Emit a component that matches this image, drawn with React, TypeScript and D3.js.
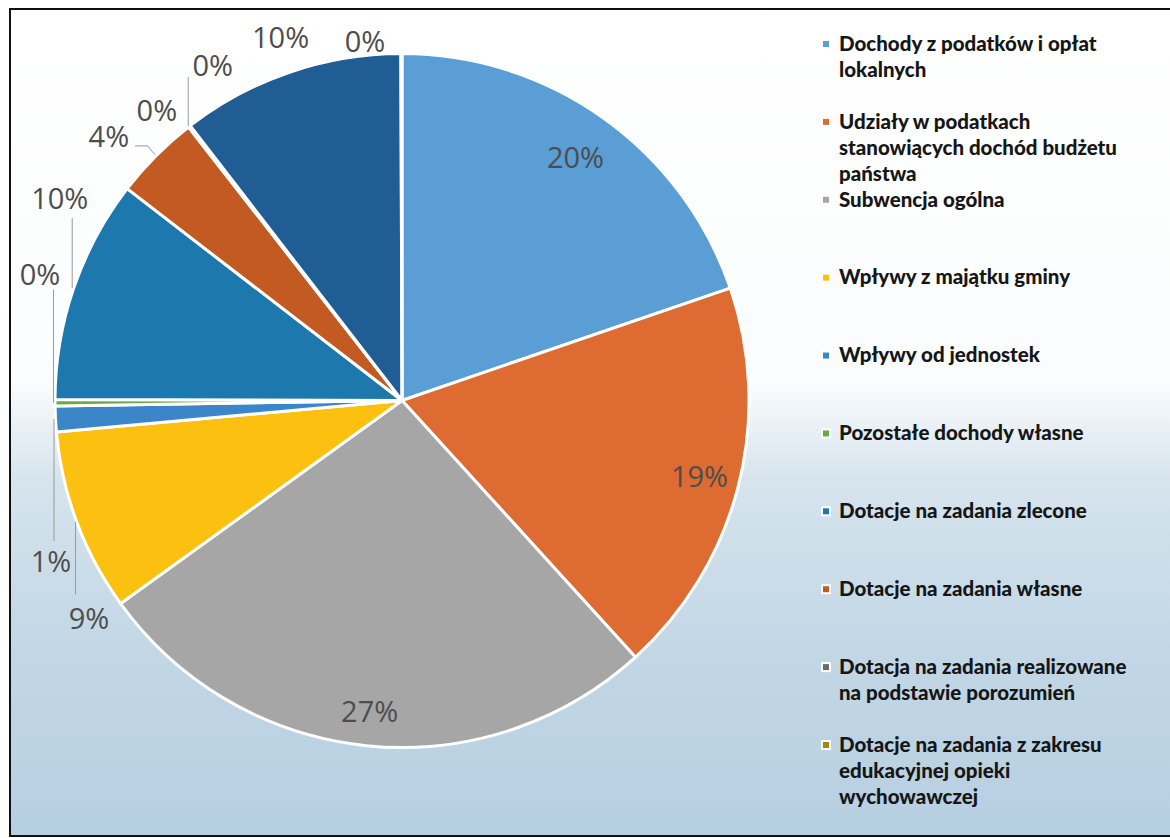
import * as d3 from "d3";

// źródła dochodów gminy (udział w %)
const categories = [
  "Dochody z podatków i opłat\nlokalnych",
  "Udziały w podatkach\nstanowiących dochód budżetu\npaństwa",
  "Subwencja ogólna",
  "Wpływy z majątku gminy",
  "Wpływy od jednostek",
  "Pozostałe dochody własne",
  "Dotacje na zadania zlecone",
  "Dotacje na zadania własne",
  "Dotacja na zadania realizowane\nna podstawie porozumień",
  "Dotacje na zadania z zakresu\nedukacyjnej opieki\nwychowawczej",
  "",
  "",
];
const shares = [19.75, 18.5, 26.8, 8.5, 1.2, 0.3, 10.4, 4.0, 0.05, 0.05, 10.4, 0.05];
const colors = [
  "#5a9ed5", "#dd6b32", "#a6a6a6", "#fcc110", "#3a86c8", "#6aa84a",
  "#1d78ad", "#c25a22", "#6b6b6b", "#a88410", "#1f5d94", "#43682b",
];
// only the first ten entries fit in the legend box
const legendCount = 10;

// label layout: inside labels sit on the centroid ring, outside ones are offset from the rim
type Placement =
  | { kind: "in"; k: number }
  | { kind: "out"; dx: number; dy: number; leader?: "v" | "elbow"; end?: number };
const placements: Placement[] = [
  { kind: "in", k: 0.86 },
  { kind: "in", k: 0.885 },
  { kind: "in", k: 0.9 },
  { kind: "out", dx: 12, dy: 96, leader: "v", end: -24 },
  { kind: "out", dx: -4.5, dy: 143, leader: "v", end: -21 },
  { kind: "out", dx: -15, dy: -128, leader: "v", end: 15 },
  { kind: "out", dx: -14, dy: -90, leader: "v", end: 20 },
  { kind: "out", dx: -47, dy: -19, leader: "elbow" },
  { kind: "out", dx: -32, dy: -16 },
  { kind: "out", dx: 23, dy: -60, leader: "v", end: 11 },
  { kind: "out", dx: -9, dy: -35 },
  { kind: "out", dx: -36.5, dy: -11.5 },
];

const W = 1170;
const H = 838;
const cx = 402;
const cy = 400.5;
const R = 347;

export default function App() {
  const total = d3.sum(shares);
  const pie = d3.pie<number>().sort(null).value((d) => d);
  const arcs = pie(shares);
  const arc = d3.arc<d3.PieArcDatum<number>>().innerRadius(0).outerRadius(R);
  const fmt = (v: number) => `${Math.round((v / total) * 100 + 1e-6)}%`;

  const legendY = d3
    .scalePoint<number>()
    .domain(d3.range(legendCount))
    .range([44, 745]);

  const labels = arcs.map((a, i) => {
    const mid = (a.startAngle + a.endAngle) / 2;
    const ex = cx + R * Math.sin(mid);
    const ey = cy - R * Math.cos(mid);
    const p = placements[i];
    if (p.kind === "in") {
      return { x: cx + p.k * R * Math.sin(mid), y: cy - p.k * R * Math.cos(mid), ex, ey, p };
    }
    return { x: ex + p.dx, y: ey + p.dy, ex, ey, p };
  });

  return (
    <svg
      width={W}
      height={H}
      style={{ position: "fixed", left: 0, top: 0, display: "block" }}
      fontFamily="Lato, 'Open Sans', sans-serif"
    >
      <defs>
        <linearGradient id="bg" x1="0" y1="0" x2="0" y2="1">
          <stop offset="0" stopColor="#ffffff" />
          <stop offset="0.45" stopColor="#fbfcfd" />
          <stop offset="0.57" stopColor="#d6e4ed" />
          <stop offset="0.75" stopColor="#c4d8e6" />
          <stop offset="1" stopColor="#b6cfe1" />
        </linearGradient>
      </defs>
      <rect x={0} y={0} width={W} height={H} fill="#ffffff" />
      <rect x={10} y={9} width={W + 20} height={827} fill="url(#bg)" stroke="#111" strokeWidth={2} />

      <g transform={`translate(${cx},${cy})`}>
        {arcs.map((a, i) => (
          <path key={i} d={arc(a) ?? ""} fill={colors[i]} stroke="#ffffff" strokeWidth={3} strokeLinejoin="round" />
        ))}
      </g>

      <g stroke="#9a9a9a" strokeWidth={1} fill="none">
        {labels.map((l, i) => {
          const p = l.p;
          if (p.kind !== "out" || !p.leader) return null;
          if (p.leader === "elbow") {
            const pts: [number, number][] = [
              [l.ex - 1, l.ey - 1],
              [l.x + 39, l.y + 9],
              [l.x + 26, l.y + 9],
            ];
            return <path key={i} d={d3.line()(pts) ?? ""} />;
          }
          const x = l.ex - 1.5;
          return <line key={i} x1={x} x2={x} y1={l.ey} y2={l.y + (p.end ?? 0)} />;
        })}
      </g>

      <g fontSize={29} fill="#4d4d4d" textAnchor="middle" fontFamily="'Open Sans', Lato, sans-serif">
        {labels.map((l, i) => (
          <text key={i} x={l.x} y={l.y} dy="0.36em">
            {fmt(shares[i])}
          </text>
        ))}
      </g>

      <g fontSize={20.5} fontWeight={900} fill="#161616">
        {categories.slice(0, legendCount).map((c, i) => {
          const y = legendY(i) ?? 0;
          return (
            <g key={i}>
              <rect x={821} y={y - 5} width={10} height={10} fill="#ffffff" />
              <rect x={823} y={y - 3} width={6} height={6} fill={colors[i]} />
              {c.split("\n").map((line, j) => (
                <text key={j} x={839} y={y + j * 26} dy="0.33em">
                  {line}
                </text>
              ))}
            </g>
          );
        })}
      </g>
    </svg>
  );
}
